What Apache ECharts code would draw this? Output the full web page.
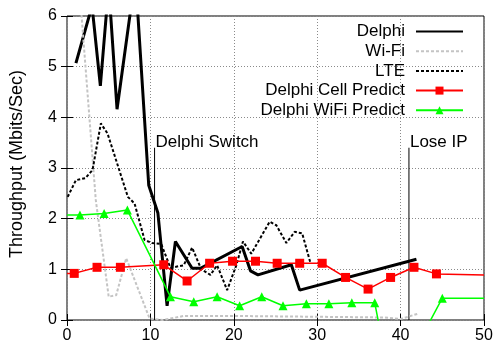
<!DOCTYPE html>
<html>
<head>
<meta charset="utf-8">
<script src="https://cdn.jsdelivr.net/npm/echarts@6/dist/echarts.min.js"></script>
<style>
  html, body { margin: 0; padding: 0; background: #fff; }
  #chart { width: 498px; height: 345px; }
</style>
</head>
<body>
<div id="chart"></div>
<script>
// Throughput traces (time in seconds, Mbits/Sec)
const delphiX = [1.07, 3.0, 4.0, 5.0, 6.0, 8.2, 9.8, 10.9, 12.0, 13.0, 15.0, 16.0, 21.0, 22.0, 22.9, 26.9, 27.9, 41.9];
const delphiY = [5.07, 6.2, 4.62, 6.6, 4.16, 6.8, 2.66, 2.11, 0.28, 1.55, 1.02, 1.02, 1.45, 0.97, 0.89, 1.09, 0.59, 1.2];

const wifiX = [1.0, 3.45, 5.0, 5.9, 7.1, 9.9, 11.5, 14, 20, 26, 32, 38, 40, 42];
const wifiY = [7.6, 2.37, 0.46, 0.49, 1.22, 0.03, 0.0, 0.08, 0.08, 0.07, 0.06, 0.05, 0.02, 0.12];

const lteX = [0.08, 1.07, 2.2, 3.06, 4.06, 4.86, 7.3, 8.1, 9.3, 10.2, 11.3, 12.4, 14.0, 15.0, 16.1, 17.2, 18.0, 19.2, 20.3, 21.1, 22.1, 24.3, 25.1, 26.3, 27.3, 28.2, 29.2];
const lteY = [2.43, 2.76, 2.8, 2.96, 3.88, 3.68, 2.43, 2.3, 1.58, 1.52, 1.5, 1.03, 1.08, 1.43, 1.0, 0.89, 1.08, 0.59, 1.08, 1.55, 1.31, 1.94, 1.87, 1.52, 1.74, 1.71, 1.12];

const cellX = [0, 0.87, 3.6, 6.4, 11.6, 14.4, 17.1, 19.85, 22.6, 25.2, 27.9, 30.6, 33.4, 36.1, 38.8, 41.6, 44.3, 50];
const cellY = [0.92, 0.92, 1.04, 1.04, 1.09, 0.77, 1.12, 1.16, 1.16, 1.12, 1.12, 1.12, 0.84, 0.61, 0.84, 1.04, 0.91, 0.89];

const wifiPredX = [0, 1.55, 4.45, 7.24, 12.4, 15.2, 18.0, 20.7, 23.35, 25.9, 28.7, 31.4, 34.15, 36.9, 39.6, 42.3, 45.0, 50];
const wifiPredY = [2.07, 2.07, 2.1, 2.17, 0.46, 0.36, 0.46, 0.28, 0.46, 0.28, 0.32, 0.32, 0.34, 0.34, -1.95, -0.4, 0.43, 0.43];

// Event markers
const eventNames = ['Delphi Switch', 'Lose IP'];
const eventX = [10.5, 41.0];
const eventTop = 3.4;

const seriesNames = ['Delphi', 'Wi-Fi', 'LTE', 'Delphi Cell Predict', 'Delphi WiFi Predict'];
const yTitle = 'Throughput (Mbits/Sec)';

const FONT = '"Liberation Sans", Arial, Helvetica, sans-serif';

function zip(xs, ys) { return xs.map((x, i) => [x, ys[i]]); }
// first/last samples extend the trace to the frame edges without a marker
function bareEnds(pts) {
  return pts.map((p, i) => (i === 0 || i === pts.length - 1) ? { value: p, symbol: 'none' } : p);
}

const tickStyle = { inside: true, length: 6, lineStyle: { color: '#000', width: 1 } };
const gridLine = { show: true, lineStyle: { color: '#8a8a8a', width: 1, type: [1, 2] } };

const chart = echarts.init(document.getElementById('chart'), null, { renderer: 'canvas' });

const eventSeries = eventNames.map((name, i) => ({
  name: name,
  type: 'line',
  data: [[eventX[i], 0], [eventX[i], eventTop]],
  showSymbol: false,
  symbol: 'none',
  lineStyle: { color: '#000', width: 1 },
  silent: true,
  z: 1,
  endLabel: {
    show: true,
    formatter: name,
    distance: 1,
    offset: [0, -5],
    color: '#000',
    fontSize: 17,
    fontFamily: FONT
  }
}));

// plain line entries: hide the legend marker, keep the line sample
const legendData = seriesNames.map((name, i) =>
  i < 3 ? { name: name, itemStyle: { opacity: 0 } } : { name: name });

chart.setOption({
  animation: false,
  backgroundColor: '#fff',
  textStyle: { fontFamily: FONT },
  grid: {
    left: 66, right: 14, top: 16, bottom: 25,
    show: true, borderColor: '#000', borderWidth: 1, backgroundColor: 'transparent'
  },
  xAxis: [{
    type: 'value', min: 0, max: 50, interval: 10,
    axisLine: { show: false },
    axisTick: tickStyle,
    axisLabel: { color: '#000', fontSize: 16, margin: 8, fontFamily: FONT },
    splitLine: gridLine
  }, {
    type: 'value', min: 0, max: 50, interval: 10, position: 'top',
    axisLine: { show: false }, axisTick: tickStyle,
    axisLabel: { show: false }, splitLine: { show: false }
  }],
  yAxis: [{
    type: 'value', min: 0, max: 6, interval: 1,
    name: yTitle, nameLocation: 'middle', nameGap: 41,
    nameTextStyle: { color: '#000', fontSize: 18, fontFamily: FONT, padding: [0, 0, 0, 8] },
    axisLine: { show: false },
    axisTick: tickStyle,
    axisLabel: { color: '#000', fontSize: 16, margin: 10, fontFamily: FONT },
    splitLine: gridLine
  }, {
    type: 'value', min: 0, max: 6, interval: 1, position: 'right',
    axisLine: { show: false }, axisTick: tickStyle,
    axisLabel: { show: false }, splitLine: { show: false }
  }],
  legend: {
    data: legendData,
    orient: 'vertical',
    align: 'right',
    right: 34, top: 23,
    padding: 0,
    itemWidth: 47, itemHeight: 10, itemGap: 2.7,
    textStyle: { color: '#000', fontSize: 17, lineHeight: 14, fontFamily: FONT, padding: [0, 6, 0, 0] }
  },
  series: [
    {
      name: seriesNames[0], type: 'line', data: zip(delphiX, delphiY),
      symbol: 'none', showSymbol: false, clip: true,
      lineStyle: { color: '#000', width: 3 }, itemStyle: { color: '#000' }, z: 2
    },
    {
      name: seriesNames[1], type: 'line', data: zip(wifiX, wifiY),
      symbol: 'none', showSymbol: false, clip: true,
      lineStyle: { color: '#c4c4c4', width: 2, type: [3, 2] }, itemStyle: { color: '#c4c4c4' }, z: 3
    },
    {
      name: seriesNames[2], type: 'line', data: zip(lteX, lteY),
      symbol: 'none', showSymbol: false, clip: true,
      lineStyle: { color: '#000', width: 2, type: [3, 2] }, itemStyle: { color: '#000' }, z: 4
    },
    {
      name: seriesNames[3], type: 'line', data: bareEnds(zip(cellX, cellY)),
      symbol: 'rect', symbolSize: 9, showSymbol: true, clip: true,
      lineStyle: { color: '#ff0000', width: 1.5 }, itemStyle: { color: '#ff0000' }, z: 5
    },
    {
      name: seriesNames[4], type: 'line', data: bareEnds(zip(wifiPredX, wifiPredY)),
      symbol: 'triangle', symbolSize: 9, showSymbol: true, clip: true,
      lineStyle: { color: '#00ff00', width: 1.5 }, itemStyle: { color: '#00ff00' }, z: 6
    }
  ].concat(eventSeries)
});
</script>
</body>
</html>
